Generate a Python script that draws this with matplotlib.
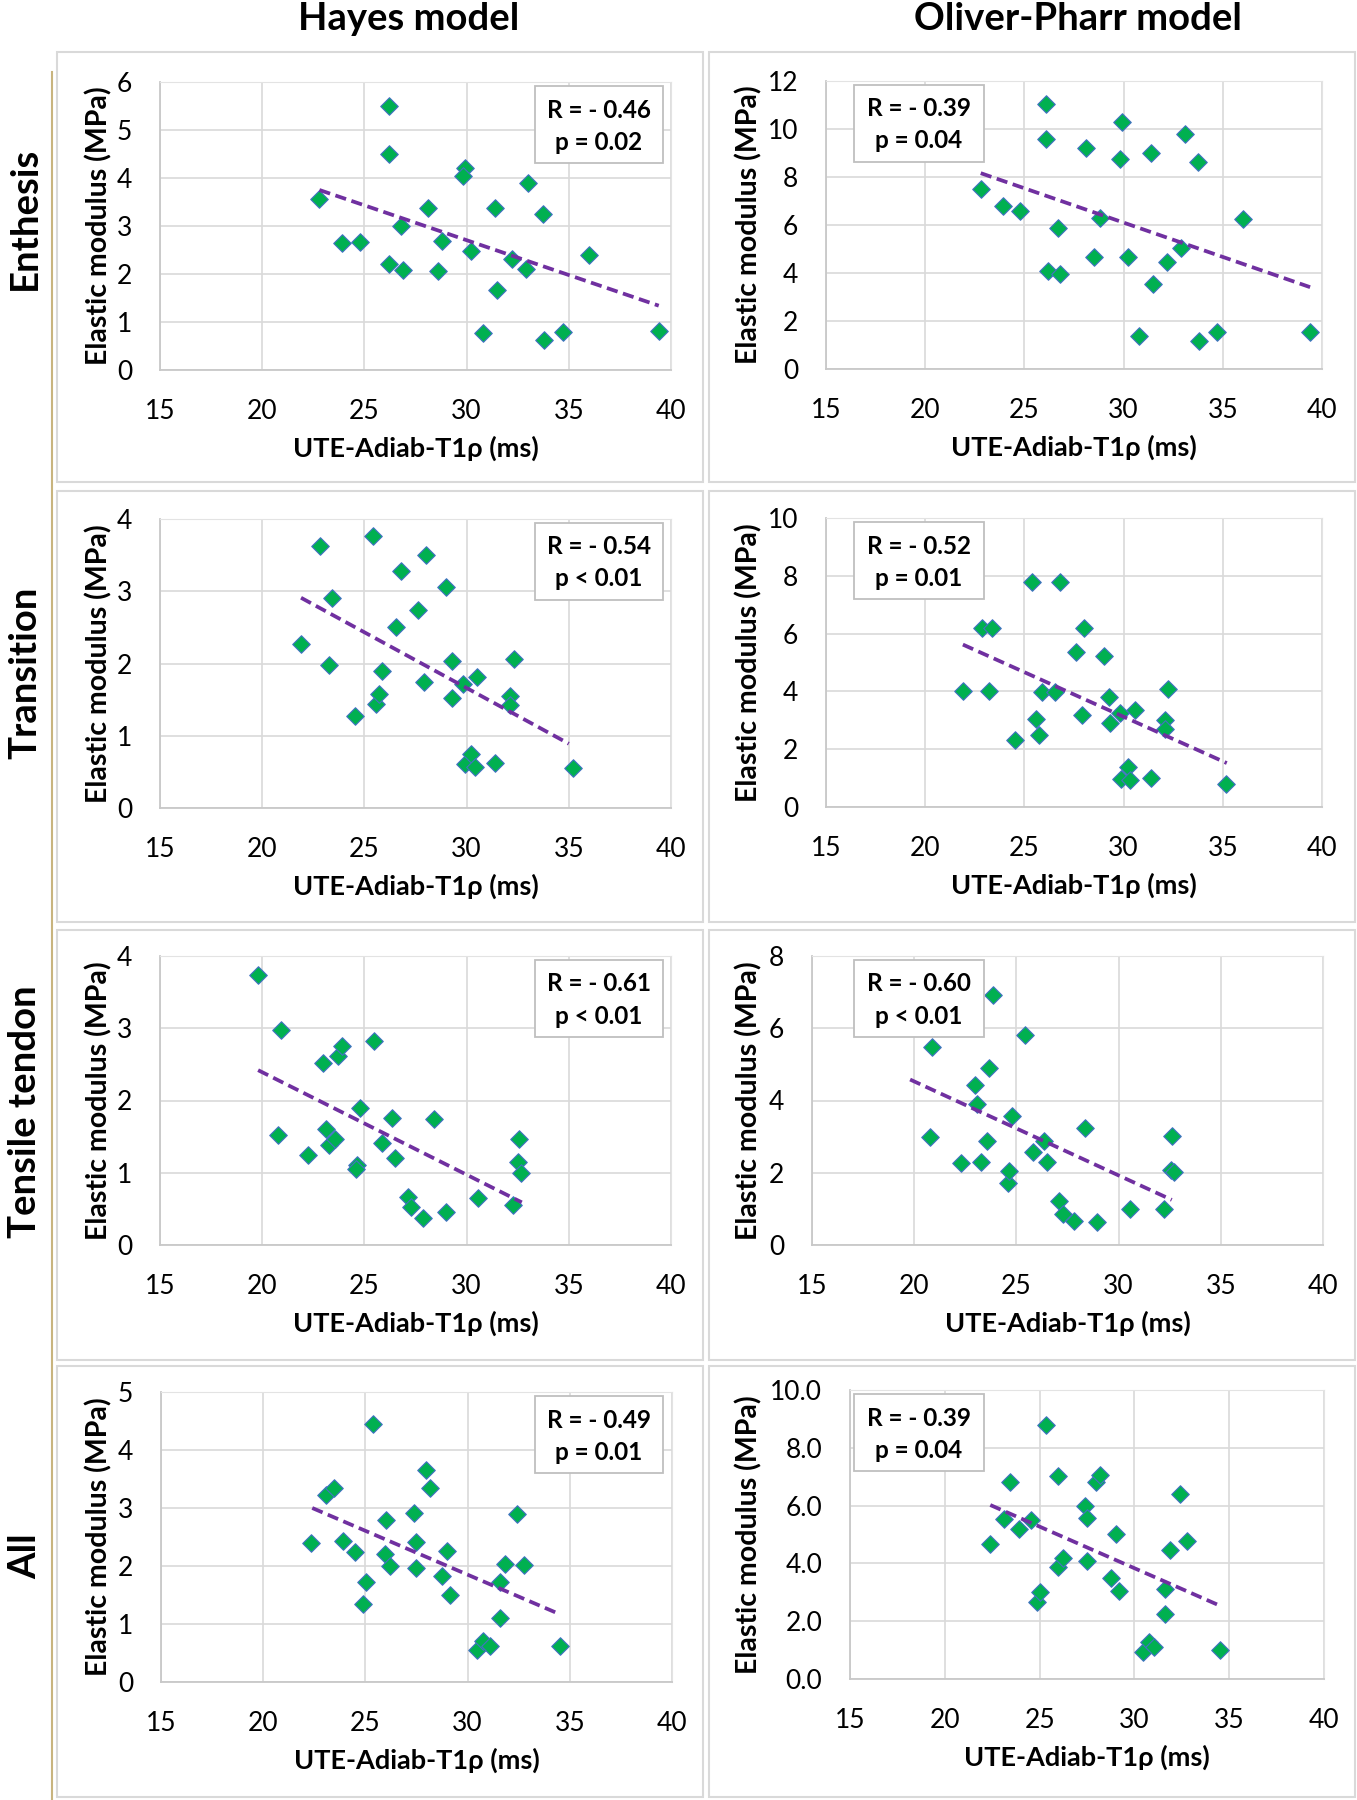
import matplotlib
matplotlib.use("Agg")
import matplotlib.pyplot as plt
import numpy as np
from matplotlib.patches import Rectangle
from matplotlib.ticker import FormatStrFormatter

plt.rcParams['font.family'] = ['Lato', 'DejaVu Sans']

# --- DATA ---
col_titles = ["Hayes model", "Oliver-Pharr model"]
row_titles = ["Enthesis", "Transition", "Tensile tendon", "All"]

# Enthesis
ent_hayes_x = [22.8, 26.2, 26.2, 23.9, 24.8, 26.2, 26.9, 26.8, 28.1, 28.8, 28.6, 29.9, 29.8,
               30.2, 30.8, 31.4, 31.5, 32.2, 32.9, 33.0, 33.75, 33.8, 34.7, 36.0, 39.4]
ent_hayes_y = [3.56, 5.50, 4.50, 2.64, 2.67, 2.20, 2.08, 3.01, 3.38, 2.69, 2.07, 4.20, 4.05,
               2.48, 0.77, 3.38, 1.66, 2.31, 2.11, 3.90, 3.24, 0.62, 0.79, 2.40, 0.81]
ent_op_x = [22.8, 26.1, 26.1, 23.9, 24.8, 26.7, 26.2, 26.8, 28.1, 28.8, 28.5, 29.9, 29.8,
            30.2, 30.8, 31.4, 31.5, 32.2, 32.9, 33.1, 33.75, 33.8, 34.7, 36.0, 39.4]
ent_op_y = [7.48, 11.06, 9.57, 6.80, 6.60, 5.88, 4.08, 3.95, 9.21, 6.31, 4.66, 10.31, 8.74,
            4.68, 1.37, 9.00, 3.55, 4.47, 5.04, 9.81, 8.64, 1.15, 1.54, 6.26, 1.53]

# Transition
tra_hayes_x = [21.9, 22.85, 23.26, 23.4, 24.56, 25.4, 25.55, 25.7, 25.86, 26.55, 26.8, 27.6,
               27.9, 28.0, 29.0, 29.3, 29.3, 29.8, 29.9, 30.2, 30.4, 30.5, 31.4, 32.1, 32.1,
               32.3, 35.2]
tra_hayes_y = [2.27, 3.62, 1.98, 2.91, 1.28, 3.77, 1.44, 1.58, 1.89, 2.51, 3.28, 2.74,
               1.74, 3.50, 3.06, 2.04, 1.52, 1.71, 0.61, 0.75, 0.57, 1.81, 0.62, 1.55, 1.42,
               2.06, 0.55]
tra_op_x = [21.9, 22.86, 23.38, 23.24, 24.53, 25.37, 25.58, 25.72, 25.87, 26.56, 26.81, 27.6,
            27.9, 28.0, 29.03, 29.28, 29.3, 29.8, 29.86, 30.2, 30.3, 30.55, 31.4, 32.1, 32.1,
            32.25, 35.15]
tra_op_y = [4.03, 6.19, 6.19, 4.03, 2.31, 7.79, 3.05, 2.49, 3.97, 3.98, 7.79, 5.35,
            3.20, 6.20, 5.24, 3.81, 2.89, 3.26, 0.96, 1.37, 0.92, 3.35, 1.02, 3.01, 2.70,
            4.09, 0.79]

# Tensile tendon
ten_hayes_x = [19.81, 20.93, 20.78, 22.24, 22.97, 23.14, 23.28, 23.54, 23.69, 23.89, 24.64,
               24.6, 24.78, 25.49, 25.84, 26.36, 26.5, 27.13, 27.3, 27.85, 28.41, 28.98,
               30.58, 32.27, 32.57, 32.51, 32.67]
ten_hayes_y = [3.74, 2.98, 1.52, 1.25, 2.52, 1.60, 1.38, 1.47, 2.61, 2.75, 1.11,
               1.05, 1.89, 2.82, 1.41, 1.76, 1.20, 0.67, 0.52, 0.37, 1.74, 0.45,
               0.65, 0.56, 1.47, 1.15, 1.00]
ten_op_x = [20.87, 20.77, 22.27, 22.98, 23.08, 23.29, 23.55, 23.65, 23.87, 24.61, 24.65,
            24.77, 25.44, 25.82, 26.37, 26.51, 27.1, 27.27, 27.84, 28.38, 28.93, 30.56,
            32.24, 32.57, 32.7, 32.59]
ten_op_y = [5.47, 3.00, 2.26, 4.43, 3.90, 2.31, 2.88, 4.91, 6.91, 1.72, 2.06,
            3.58, 5.82, 2.57, 2.88, 2.30, 1.22, 0.87, 0.66, 3.25, 0.64, 1.00,
            1.01, 2.08, 2.02, 3.01]

# All
all_hayes_x = [22.36, 23.09, 23.45, 23.88, 24.47, 25.02, 24.89, 25.38, 25.95, 26.03, 26.19,
               27.37, 27.47, 27.47, 27.98, 28.14, 28.73, 28.99, 29.15, 30.47, 30.73, 31.12,
               31.6, 31.6, 31.85, 32.4, 32.76, 34.53]
all_hayes_y = [2.39, 3.22, 3.35, 2.43, 2.25, 1.73, 1.34, 4.44, 2.20, 2.79, 2.00,
               2.92, 2.42, 1.96, 3.65, 3.35, 1.83, 2.26, 1.50, 0.55, 0.71, 0.62,
               1.73, 1.11, 2.03, 2.90, 2.02, 0.62]
all_op_x = [22.36, 23.1, 23.44, 23.92, 24.55, 24.88, 25.03, 25.36, 25.97, 25.99, 26.22,
            27.38, 27.49, 27.49, 27.97, 28.19, 28.76, 29.03, 29.2, 30.45, 30.76, 31.04,
            31.61, 31.61, 31.87, 32.4, 32.75, 34.52]
all_op_y = [4.68, 5.52, 6.80, 5.20, 5.50, 2.66, 3.01, 8.79, 3.88, 7.01, 4.18,
            5.98, 5.57, 4.09, 6.82, 7.07, 3.49, 5.01, 3.04, 0.94, 1.29, 1.12,
            2.26, 3.13, 4.45, 6.41, 4.78, 0.99]

# linear trend lines as drawn in the reference (start/end x and y)
trend_x0 = [22.8, 22.8, 21.9, 21.9, 19.8, 19.8, 22.4, 22.4]
trend_x1 = [39.4, 39.4, 35.0, 35.2, 32.7, 32.6, 34.5, 34.5]
trend_y0 = [3.75, 8.16, 2.91, 5.62, 2.42, 4.58, 3.00, 6.02]
trend_y1 = [1.34, 3.41, 0.89, 1.52, 0.59, 1.25, 1.17, 2.54]

r_labels = ["R = - 0.46", "R = - 0.39", "R = - 0.54", "R = - 0.52",
            "R = - 0.61", "R = - 0.60", "R = - 0.49", "R = - 0.39"]
p_labels = ["p = 0.02", "p = 0.04", "p < 0.01", "p = 0.01",
            "p < 0.01", "p < 0.01", "p = 0.01", "p = 0.04"]
y_max = [6, 12, 4, 10, 4, 8, 5, 10]
y_step = [1, 2, 1, 2, 1, 2, 1, 2]

series = [(ent_hayes_x, ent_hayes_y), (ent_op_x, ent_op_y),
          (tra_hayes_x, tra_hayes_y), (tra_op_x, tra_op_y),
          (ten_hayes_x, ten_hayes_y), (ten_op_x, ten_op_y),
          (all_hayes_x, all_hayes_y), (all_op_x, all_op_y)]

# --- LAYOUT (pixel boxes: left, top, right, bottom) ---
W, H = 1357, 1800
axes_px = [(160, 82, 671, 370), (826, 81, 1322, 369),
           (160, 519, 671, 808), (826, 518, 1322, 807),
           (160, 956, 671, 1245), (812, 956, 1323, 1245),
           (161, 1392, 672, 1682), (850, 1390, 1324, 1679)]
panel_cols = [(57, 703), (709, 1355)]
panel_rows = [(52, 482), (491, 922), (930, 1360), (1366, 1797)]
stat_box_cols = [(535, 663), (854, 984)]
ylabel_right = [112, 762]


def fx(x):
    return x / W


def fy(y):
    return 1 - y / H


fig = plt.figure(figsize=(W / 100, H / 100), dpi=100)

# panel frames
for (t, b) in panel_rows:
    for (l, r) in panel_cols:
        fig.patches.append(Rectangle((fx(l), fy(b)), fx(r - l), (b - t) / H,
                                     transform=fig.transFigure, fill=False,
                                     ec='#d9d9d9', lw=1.5))

# tan separator line
fig.add_artist(plt.Line2D([fx(52), fx(52)], [fy(72), fy(1800)],
                          transform=fig.transFigure, color='#c8b47e', lw=1.5))

for i, (l, t, r, b) in enumerate(axes_px):
    col = i % 2
    ax = fig.add_axes([fx(l), fy(b), fx(r - l), (b - t) / H])
    x, y = series[i]

    ax.scatter(x, y, marker='D', s=80, c='#00b050', edgecolors='#4472c4',
               linewidths=0.8, zorder=3)
    ax.plot([trend_x0[i], trend_x1[i]], [trend_y0[i], trend_y1[i]],
            color='#7030a0', lw=2.7, dashes=(3, 1.5), zorder=4)

    ax.set_xlim(15, 40)
    ax.set_ylim(0, y_max[i])
    ax.set_xticks(np.arange(15, 41, 5))
    ax.set_yticks(np.arange(0, y_max[i] + 0.01, y_step[i]))
    if i == 7:
        ax.yaxis.set_major_formatter(FormatStrFormatter('%.1f'))
    ax.grid(True, color='#d9d9d9', lw=1.2)
    ax.set_axisbelow(True)
    for s in ['top', 'right']:
        ax.spines[s].set_color('#e3e3e3')
    for s in ['left', 'bottom']:
        ax.spines[s].set_color('#c8c8c8')
        ax.spines[s].set_linewidth(1.3)
    ax.tick_params(length=0, labelsize=19, colors='black')
    ax.tick_params(axis='x', pad=21)
    ax.tick_params(axis='y', pad=20)

    ax.set_xlabel("UTE-Adiab-T1ρ (ms)", fontsize=19.5, fontweight='bold')
    ax.set_ylabel("Elastic modulus (MPa)", fontsize=20.5, fontweight='bold')
    hgt = b - t
    wid = r - l
    ax.xaxis.set_label_coords(0.5, -66 / hgt)
    ax.yaxis.set_label_coords((ylabel_right[col] - l) / wid, 0.5)

    # statistics box
    bl, br = stat_box_cols[col]
    bt, bb = t + 4, t + 81
    fig.patches.append(Rectangle((fx(bl), fy(bb)), fx(br - bl), (bb - bt) / H,
                                 transform=fig.transFigure, fc='white',
                                 ec='#bfbfbf', lw=1.3, zorder=5))
    cx = fx((bl + br) / 2)
    fig.text(cx, fy(t + 28), r_labels[i], ha='center', va='center',
             fontsize=17.5, fontweight='bold', zorder=6)
    fig.text(cx, fy(t + 60), p_labels[i], ha='center', va='center',
             fontsize=17.5, fontweight='bold', zorder=6)

# column and row titles
for x_c, txt in zip([409, 1078], col_titles):
    fig.text(fx(x_c), fy(19), txt, ha='center', va='center',
             fontsize=27.5, fontweight='bold')
for y_c, txt in zip([218, 673, 1112, 1556], row_titles):
    fig.text(fx(25), fy(y_c), txt, ha='center', va='center', rotation=90,
             fontsize=27.5, fontweight='bold')

fig.savefig("out.png", dpi=100)
